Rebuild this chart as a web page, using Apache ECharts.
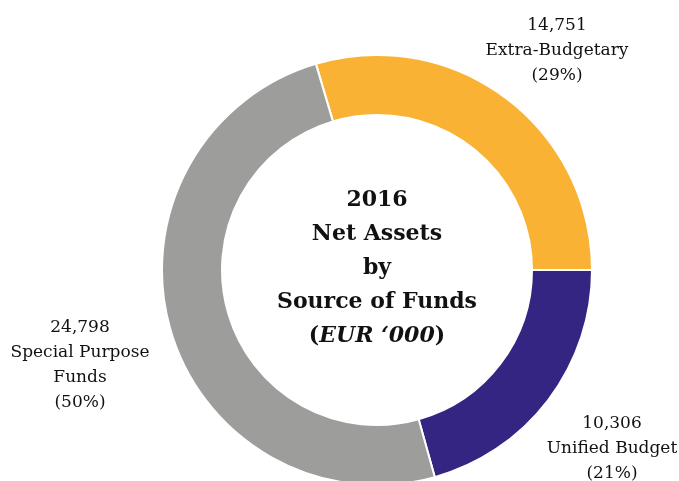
<!DOCTYPE html>
<html>
<head>
<meta charset="utf-8">
<script src="https://cdn.jsdelivr.net/npm/echarts@6/dist/echarts.min.js"></script>
<style>html,body{margin:0;padding:0;background:#fff;}#c{width:679px;height:481px;}</style>
</head>
<body>
<div id="c"></div>
<script>
var categories = ['Extra-Budgetary', 'Unified Budget', 'Special Purpose\nFunds'];
var values = [14751, 10306, 24798];
var percents = ['29%', '21%', '50%'];
var colors = ['#F9B233', '#332581', '#9D9D9C'];

var labelPos = [[557, 51], [612, 449], [80, 365]];

var chart = echarts.init(document.getElementById('c'));
var total = values.reduce(function (a, b) { return a + b; }, 0);
var startAngle = (values[0] / total) * 360;

chart.setOption({
  animation: false,
  series: [{
    type: 'pie',
    center: [377, 270],
    radius: [155, 215],
    startAngle: startAngle,
    clockwise: true,
    itemStyle: { borderColor: '#fff', borderWidth: 2 },
    label: {
      show: true,
      position: 'outside',
      fontFamily: 'DejaVu Serif',
      fontSize: 17,
      lineHeight: 25,
      color: '#111',
      align: 'center',
      overflow: 'none',
      width: 200,
      formatter: function (p) {
        return p.value.toLocaleString('en-US') + '\n' + categories[p.dataIndex] + '\n(' + percents[p.dataIndex] + ')';
      }
    },
    labelLine: { show: false },
    labelLayout: function (params) {
      var pos = labelPos[params.dataIndex];
      return { x: pos[0], y: pos[1], align: 'center', verticalAlign: 'middle' };
    },
    data: values.map(function (v, i) {
      return { name: categories[i], value: v, itemStyle: { color: colors[i] } };
    })
  }],
  graphic: [{
    type: 'text',
    x: 377,
    y: 268,
    style: {
      text: '{b|2016}\n{b|Net Assets}\n{b|by}\n{b|Source of Funds}\n{b|(}{i|EUR \u2018000}{b|)}',
      align: 'center',
      verticalAlign: 'middle',
      rich: {
        b: { fontFamily: 'DejaVu Serif', fontWeight: 'bold', fontSize: 22, lineHeight: 34, fill: '#111', align: 'center' },
        i: { fontFamily: 'DejaVu Serif', fontWeight: 'bold', fontStyle: 'italic', fontSize: 22, lineHeight: 34, fill: '#111' }
      }
    }
  }]
});
</script>
</body>
</html>
